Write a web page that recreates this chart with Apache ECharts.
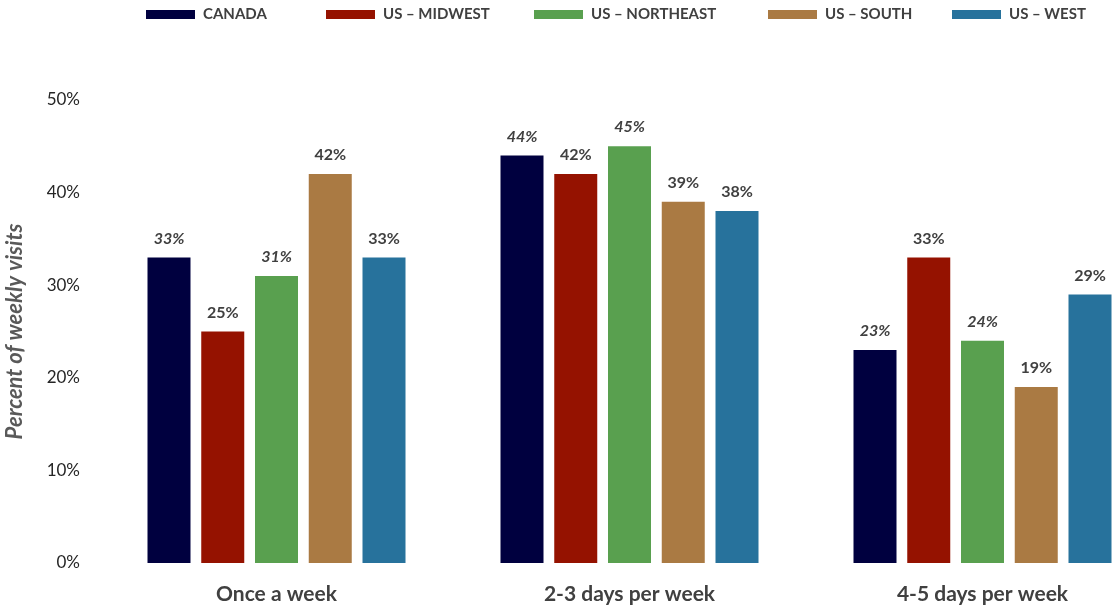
<!DOCTYPE html>
<html>
<head>
<meta charset="utf-8">
<script src="https://cdn.jsdelivr.net/npm/echarts@6/dist/echarts.min.js"></script>
<style>
  html, body { margin: 0; padding: 0; background: #fff; }
  #chart { width: 1114px; height: 608px; }
</style>
</head>
<body>
<div id="chart"></div>
<script>
// Visit frequency categories
const categories = ['Once a week', '2-3 days per week', '4-5 days per week'];

// Share of weekly visits per region (%)
const canada    = [33, 44, 23];
const midwest   = [25, 42, 33];
const northeast = [31, 45, 24];
const south     = [42, 39, 19];
const west      = [33, 38, 29];

const seriesNames = ['CANADA', 'US \u2013 MIDWEST', 'US \u2013 NORTHEAST', 'US \u2013 SOUTH', 'US \u2013 WEST'];
const yTicks = [0, 10, 20, 30, 40, 50];

const seriesData = [canada, midwest, northeast, south, west];
const colors = ['#00003F', '#951200', '#59A04F', '#AA7A43', '#27729C'];
const italicLabels = [true, false, true, false, false];
const legendLeft = [141, 321, 529, 763, 947];

const FONT = 'Lato, "Open Sans", sans-serif';

const chart = echarts.init(document.getElementById('chart'), null, { renderer: 'canvas' });

const series = seriesData.map((d, i) => ({
  name: seriesNames[i],
  type: 'bar',
  data: d,
  barWidth: 43,
  barGap: '25%',
  itemStyle: { color: colors[i] },
  label: {
    show: true,
    position: 'top',
    distance: 11,
    formatter: '{c}%',
    fontFamily: FONT,
    fontSize: 16,
    fontWeight: 'bold',
    fontStyle: italicLabels[i] ? 'italic' : 'normal',
    color: '#404040'
  }
}));

const legends = seriesNames.map((n, i) => ({
  data: [n],
  top: 2,
  left: legendLeft[i],
  itemWidth: 49,
  itemHeight: 9,
  itemGap: 8,
  icon: 'rect',
  textStyle: { fontFamily: FONT, fontSize: 15, fontWeight: 'bold', color: '#404040', padding: [0, 0, 0, 3] },
  selectedMode: false
}));

chart.setOption({
  animation: false,
  backgroundColor: '#ffffff',
  legend: legends,
  // the plot runs past the right edge of the canvas, clipping the last bar
  grid: { left: 100, width: 1059, top: 100, bottom: 45, containLabel: false, outerBoundsMode: 'none' },
  xAxis: {
    type: 'category',
    data: categories,
    axisLine: { show: false },
    axisTick: { show: false },
    axisLabel: {
      margin: 21,
      fontFamily: FONT,
      fontSize: 21,
      fontWeight: 'bold',
      color: '#404040'
    }
  },
  yAxis: {
    type: 'value',
    min: yTicks[0],
    max: yTicks[yTicks.length - 1],
    interval: 10,
    name: 'Percent of weekly visits',
    nameLocation: 'middle',
    nameGap: 74,
    nameRotate: 90,
    nameTextStyle: {
      fontFamily: FONT,
      fontSize: 22,
      fontWeight: 'bold',
      fontStyle: 'italic',
      color: '#595959'
    },
    axisLine: { show: false },
    axisTick: { show: false },
    splitLine: { show: false },
    axisLabel: {
      margin: 20,
      formatter: '{value}%',
      fontFamily: FONT,
      fontSize: 17,
      color: '#262626'
    }
  },
  series: series
});
</script>
</body>
</html>
